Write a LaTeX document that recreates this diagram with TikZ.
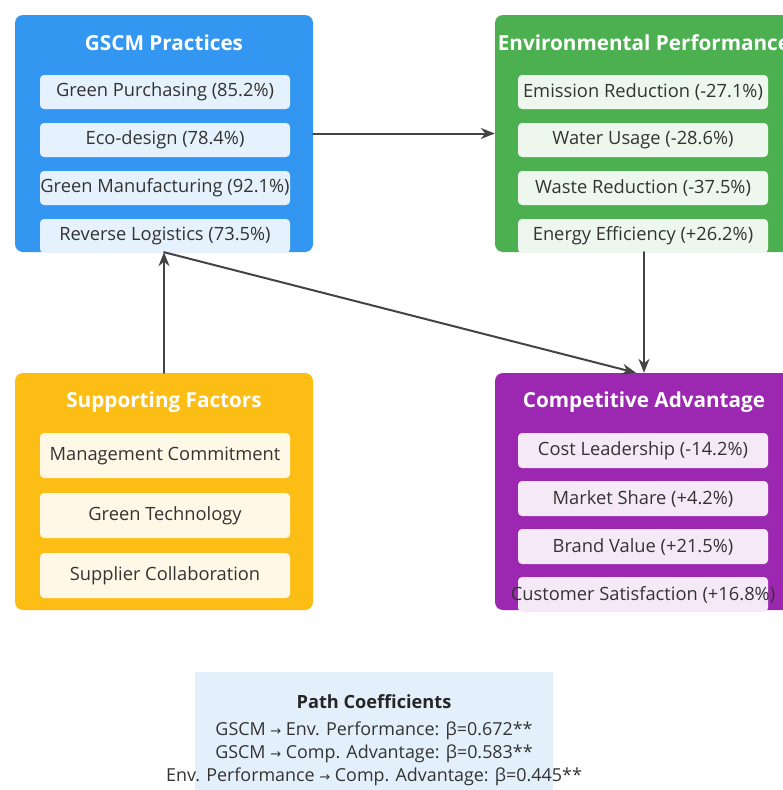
\documentclass[tikz,border=0pt]{standalone}
\usepackage{fontspec}
\setmainfont{Open Sans}
\newfontfamily\arrowfont{DejaVu Sans}
\usetikzlibrary{arrows.meta,positioning}
\definecolor{gscmblue}{RGB}{51,150,240}
\definecolor{gscmitem}{RGB}{229,241,252}
\definecolor{envgreen}{RGB}{76,175,80}
\definecolor{envitem}{RGB}{237,247,237}
\definecolor{supamber}{RGB}{252,190,20}
\definecolor{supitem}{RGB}{255,248,230}
\definecolor{comppurple}{RGB}{156,39,176}
\definecolor{compitem}{RGB}{245,233,248}
\definecolor{notebg}{RGB}{227,240,252}
\definecolor{textgray}{RGB}{51,51,51}
\definecolor{linkgray}{RGB}{68,68,68}
\tikzset{
  every picture/.append style={line cap=round,line join=round},
  gscm panel/.style={rounded corners=8pt,minimum width=298pt,minimum height=237pt,inner sep=0pt},
  gscm title/.style={text=white,font=\fontsize{20.7}{24}\selectfont\bfseries},
  gscm item/.style={rounded corners=4pt,minimum width=250pt,inner sep=0pt,text=textgray,font=\fontsize{18.3}{22}\selectfont},
  gscm link/.style={draw=linkgray,line width=2pt,-{Stealth[length=14pt,width=11pt]}},
  gscm note/.style={text=textgray,font=\fontsize{17.9}{21}\selectfont}
}

\begin{document}
\begin{tikzpicture}[x=1pt,y=-1pt]
  \useasboundingbox (0,0) rectangle (783,790);
  % panels
  \node[gscm panel,fill=gscmblue] (gscm) at (164,133.5) {};
  \node[gscm panel,fill=envgreen] (env) at (644,133.5) {};
  \node[gscm panel,fill=supamber] (support) at (164,491.5) {};
  \node[gscm panel,fill=comppurple] (comp) at (644,491.5) {};
  \node[gscm title] (gscm-title) at (164,43) {GSCM Practices};
  \node[gscm title] (env-title) at (644,43) {Environmental Performance};
  \node[gscm title] (support-title) at (164,402) {Supporting Factors};
  \node[gscm title] (comp-title) at (644,402) {Competitive Advantage};
  % items
  \foreach \y/\txt [count=\i] in {92/Green Purchasing (85.2\%),140/Eco-design (78.4\%),
      188/Green Manufacturing (92.1\%),236/Reverse Logistics (73.5\%)}
    \node[gscm item,fill=gscmitem,minimum height=34pt] (gscm-\i) at (165,\y) {\makebox[250pt]{\txt}};
  \foreach \y/\txt [count=\i] in {92/Emission Reduction (-27.1\%),140/Water Usage (-28.6\%),
      188/Waste Reduction (-37.5\%),236/Energy Efficiency (+26.2\%)}
    \node[gscm item,fill=envitem,minimum height=34pt] (env-\i) at (643,\y) {\makebox[250pt]{\txt}};
  \foreach \y/\txt [count=\i] in {455.5/Management Commitment,515.5/Green Technology,
      575.5/Supplier Collaboration}
    \node[gscm item,fill=supitem,minimum height=45pt] (support-\i) at (165,\y) {\makebox[250pt]{\txt}};
  \foreach \y/\txt [count=\i] in {450.5/Cost Leadership (-14.2\%),498.5/Market Share (+4.2\%),
      546.5/Brand Value (+21.5\%),594.5/Customer Satisfaction (+16.8\%)}
    \node[gscm item,fill=compitem,minimum height=35pt] (comp-\i) at (643,\y) {\makebox[250pt]{\txt}};
  % links
  \draw[gscm link] (gscm.east) -- (env.west);
  \draw[gscm link] (env.south) -- (comp.north);
  \draw[gscm link] (support.north) -- (gscm.south);
  \draw[gscm link] (gscm.south) -- ([xshift=-8pt]comp.north);
  % coefficients
  \node[fill=notebg,minimum width=358pt,minimum height=140pt,inner sep=0pt] (coef) at (374,742) {};
  \node[gscm note,text=black!85,font=\fontsize{18.2}{21}\selectfont\bfseries] (coef-title) at (374,702) {Path Coefficients};
  \node[gscm note] (coef-1) at (374,731) {GSCM {\arrowfont\fontsize{13}{15}\selectfont →} Env. Performance: β=0.672**};
  \node[gscm note] (coef-2) at (374,754) {GSCM {\arrowfont\fontsize{13}{15}\selectfont →} Comp. Advantage: β=0.583**};
  \node[gscm note] (coef-3) at (374,777) {Env. Performance {\arrowfont\fontsize{13}{15}\selectfont →} Comp. Advantage: β=0.445**};
\end{tikzpicture}
\end{document}
